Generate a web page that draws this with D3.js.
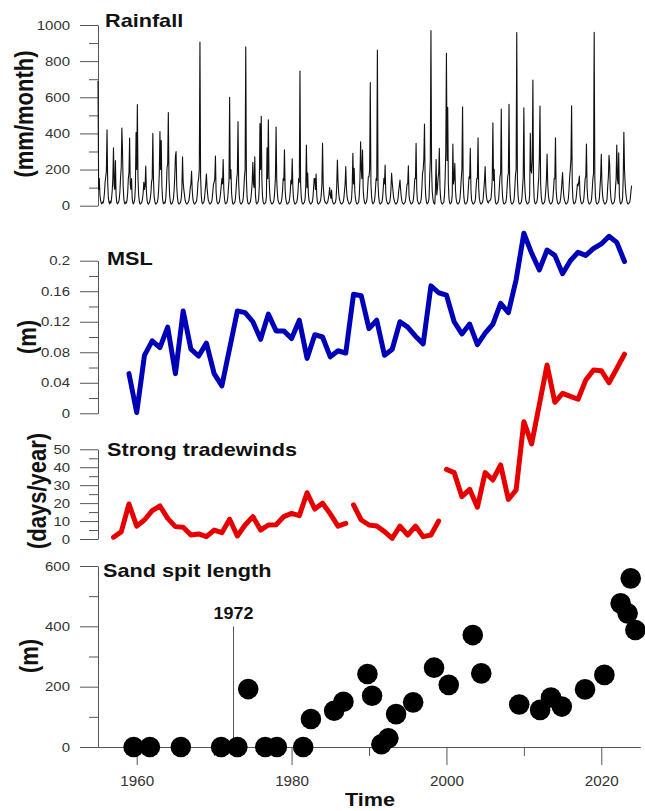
<!DOCTYPE html>
<html>
<head>
<meta charset="utf-8">
<script src="https://cdn.jsdelivr.net/npm/d3@7"></script>
<style>
body { margin: 0; background: #fff; }
svg { display: block; }
</style>
</head>
<body>
<svg width="645" height="811"></svg>
<script>
// ---- data ----
var rainStart = 1955; // monthly, Jan..Dec per row
var rainfall = [
	[690, 90, 150, 60, 30, 15, 10, 20, 15, 35, 70, 130],
	[160, 190, 420, 130, 45, 20, 10, 25, 15, 40, 80, 150],
	[320, 110, 90, 250, 60, 20, 10, 15, 20, 40, 80, 160],
	[210, 430, 300, 110, 40, 15, 10, 20, 15, 30, 70, 150],
	[180, 375, 120, 90, 150, 40, 15, 10, 20, 40, 110, 405],
	[200, 560, 150, 60, 25, 10, 10, 15, 20, 40, 70, 130],
	[90, 110, 220, 80, 30, 15, 8, 15, 20, 40, 70, 130],
	[150, 400, 140, 50, 25, 10, 10, 15, 20, 40, 90, 180],
	[410, 200, 360, 110, 40, 15, 10, 20, 15, 40, 100, 210],
	[230, 515, 150, 60, 25, 10, 10, 15, 25, 40, 90, 160],
	[275, 300, 110, 50, 20, 10, 10, 15, 20, 40, 90, 270],
	[130, 90, 60, 30, 20, 10, 10, 15, 20, 30, 60, 100],
	[120, 190, 90, 40, 20, 10, 10, 15, 20, 30, 70, 130],
	[150, 200, 905, 160, 60, 20, 10, 15, 20, 40, 80, 120],
	[175, 100, 60, 30, 20, 10, 10, 15, 20, 40, 80, 120],
	[130, 150, 275, 80, 30, 15, 10, 15, 20, 40, 70, 110],
	[150, 120, 255, 90, 40, 15, 10, 15, 20, 40, 90, 140],
	[600, 150, 200, 70, 30, 10, 10, 15, 20, 40, 90, 150],
	[180, 465, 130, 50, 20, 10, 10, 15, 20, 40, 90, 160],
	[200, 880, 150, 50, 20, 10, 10, 15, 20, 40, 80, 130],
	[240, 120, 100, 270, 60, 20, 10, 15, 20, 40, 110, 455],
	[200, 495, 140, 50, 20, 10, 10, 15, 20, 50, 320, 150],
	[475, 170, 80, 30, 20, 10, 10, 15, 20, 40, 90, 160],
	[435, 140, 70, 30, 20, 10, 10, 15, 20, 40, 80, 150],
	[140, 310, 90, 40, 20, 10, 10, 15, 20, 40, 80, 140],
	[120, 260, 100, 40, 20, 10, 10, 15, 20, 40, 80, 150],
	[130, 745, 120, 50, 20, 10, 10, 15, 20, 40, 110, 335],
	[100, 180, 70, 30, 20, 10, 10, 15, 20, 40, 90, 150],
	[150, 90, 175, 60, 20, 10, 10, 15, 20, 30, 60, 120],
	[345, 120, 60, 30, 20, 15, 10, 15, 20, 40, 60, 100],
	[60, 40, 87, 30, 20, 10, 10, 15, 20, 40, 110, 253],
	[140, 70, 40, 25, 15, 10, 10, 15, 20, 40, 80, 120],
	[216, 100, 50, 30, 20, 10, 10, 15, 20, 40, 110, 290],
	[120, 207, 80, 40, 20, 10, 10, 15, 20, 60, 150, 354],
	[200, 150, 308, 90, 40, 20, 10, 15, 20, 40, 100, 160],
	[160, 200, 681, 120, 50, 20, 10, 15, 20, 40, 90, 150],
	[140, 862, 120, 50, 20, 10, 10, 15, 20, 40, 90, 150],
	[120, 225, 70, 30, 20, 10, 10, 15, 20, 40, 90, 179],
	[130, 90, 50, 30, 20, 10, 10, 15, 20, 40, 80, 110],
	[142, 90, 50, 25, 15, 10, 10, 15, 20, 40, 80, 120],
	[120, 221, 60, 30, 20, 10, 10, 15, 20, 40, 90, 150],
	[150, 345, 90, 30, 20, 10, 10, 15, 20, 40, 100, 180],
	[200, 260, 452, 130, 50, 20, 10, 15, 20, 40, 150, 250],
	[969, 200, 80, 40, 20, 10, 10, 90, 256, 60, 90, 150],
	[180, 317, 100, 40, 20, 10, 10, 15, 20, 60, 150, 300],
	[843, 250, 544, 120, 40, 15, 10, 15, 20, 60, 341, 120],
	[150, 234, 90, 40, 20, 10, 10, 15, 20, 40, 90, 150],
	[200, 548, 130, 50, 20, 10, 10, 15, 20, 40, 100, 160],
	[150, 317, 90, 30, 20, 10, 10, 15, 20, 40, 100, 150],
	[150, 376, 100, 40, 20, 10, 10, 15, 20, 40, 90, 140],
	[216, 100, 50, 30, 20, 15, 25, 30, 30, 40, 80, 150],
	[459, 140, 201, 60, 20, 10, 10, 15, 20, 40, 100, 160],
	[180, 535, 120, 50, 20, 10, 10, 15, 20, 40, 100, 160],
	[180, 561, 130, 50, 20, 10, 10, 15, 20, 40, 100, 170],
	[200, 958, 150, 60, 20, 10, 10, 15, 20, 40, 100, 160],
	[542, 150, 70, 30, 20, 10, 10, 15, 20, 60, 400, 200],
	[180, 250, 696, 130, 40, 15, 10, 15, 20, 40, 100, 150],
	[262, 552, 120, 50, 20, 10, 10, 15, 20, 40, 90, 150],
	[286, 120, 60, 30, 20, 10, 10, 15, 20, 40, 90, 150],
	[150, 376, 90, 40, 20, 10, 10, 15, 20, 40, 80, 130],
	[183, 100, 50, 30, 20, 10, 10, 15, 20, 40, 90, 160],
	[200, 260, 553, 120, 40, 15, 10, 15, 20, 40, 80, 120],
	[110, 130, 164, 60, 30, 15, 10, 15, 20, 40, 90, 150],
	[160, 341, 100, 40, 20, 10, 10, 15, 20, 40, 90, 150],
	[180, 959, 150, 50, 20, 10, 10, 15, 20, 40, 100, 160],
	[284, 120, 60, 30, 20, 10, 10, 15, 20, 40, 110, 160],
	[279, 225, 90, 40, 20, 10, 10, 15, 20, 40, 100, 150],
	[336, 150, 120, 293, 60, 20, 10, 15, 20, 40, 150, 406],
	[200, 120, 70, 40, 20, 10, 10, 15, 20, 40, 80, 111]
];

var mslYears = [1959, 1960, 1961, 1962, 1963, 1964, 1965, 1966, 1967, 1968, 1969, 1970, 1971,
	1973, 1974, 1975, 1976, 1977, 1978, 1979, 1980, 1981, 1982, 1983, 1984, 1985, 1986, 1987,
	1988, 1989, 1990, 1991, 1992, 1993, 1994, 1995, 1996, 1997, 1998, 1999, 2000, 2001, 2002,
	2003, 2004, 2005, 2006, 2007, 2008, 2009, 2010, 2011, 2012, 2013, 2014, 2015, 2016, 2017,
	2018, 2019, 2020, 2021, 2022, 2023];
var mslValues = [0.052, 0.001, 0.076, 0.095, 0.086, 0.113, 0.052, 0.134, 0.084, 0.075, 0.092, 0.052, 0.036,
	0.134, 0.132, 0.120, 0.097, 0.130, 0.108, 0.108, 0.098, 0.122, 0.072, 0.103, 0.100, 0.074, 0.082, 0.079,
	0.156, 0.154, 0.111, 0.122, 0.076, 0.084, 0.120, 0.113, 0.101, 0.091, 0.167, 0.158, 0.155, 0.120, 0.104,
	0.117, 0.090, 0.105, 0.117, 0.144, 0.132, 0.175, 0.236, 0.210, 0.188, 0.214, 0.207, 0.183, 0.200, 0.211,
	0.207, 0.216, 0.222, 0.232, 0.224, 0.199];

// strong tradewind days, three separate records
var windStarts = [1957, 1988, 2000];
var windDays1 = [1, 4, 19.5, 7.2, 10.6, 15.8, 18.4, 11.5, 6.9, 6.5, 2.2, 2.8, 1.3, 5, 3.5, 11, 1.7, 7.8,
	12.5, 5, 7.8, 8, 12.5, 14.3, 13, 25.8, 16.7, 20, 14, 7.2, 8.7];
var windDays2 = [19, 10.6, 7.8, 7.2, 4.1, 0.4, 7.2, 2.2, 7.2, 1.3, 2.2, 10];
var windDays3 = [38.8, 37, 23.6, 27.7, 17.7, 37, 32.9, 41.3, 22.1, 27.3, 65.4, 53, 75, 97, 76.2, 81.2,
	79.5, 77.9, 88.6, 94.2, 93.8, 87.1, 95, 103];

var spitYears = [1959.6, 1961.7, 1965.7, 1970.9, 1973.0, 1974.4, 1976.6, 1978.1, 1981.5, 1982.5, 1985.5,
	1986.7, 1989.8, 1990.4, 1991.6, 1992.5, 1993.5, 1995.7, 1998.4, 2000.3, 2003.4, 2004.5, 2009.4,
	2012.1, 2013.5, 2014.9, 2017.9, 2020.4, 2022.5, 2023.4, 2023.8, 2024.4];
var spitLength = [0, 0, 0, 0, 0, 192, 0, 0, 0, 93, 120, 150, 242, 170, 9, 29, 109, 148, 263, 206, 371,
	244, 141, 123, 164, 134, 191, 239, 476, 443, 559, 388];

var eventYear = 1972.5, eventLabel = "1972", eventTop = 400;

var xMajor = [1960, 1980, 2000, 2020], xMinor = [1970, 1990, 2010];

// ---- layout ----
var font = "'Liberation Sans', Arial, sans-serif";
var axisX = 98;
var canvas = d3.select("svg");

var x = d3.scaleLinear().domain([1955, 2025]).range([98, 640]);
var rainY = d3.scaleLinear().domain([0, 1000]).range([205.7, 25]);
var mslY = d3.scaleLinear().domain([0, 0.2]).range([413.3, 260.7]);
var windY = d3.scaleLinear().domain([0, 50]).range([539, 449.3]);
var spitY = d3.scaleLinear().domain([0, 600]).range([747, 566]);

var stretch = function(sel, k) {
	sel.each(function() {
		var w = this.getComputedTextLength();
		d3.select(this).attr("textLength", w * k).attr("lengthAdjust", "spacingAndGlyphs");
	});
}

var styleAxis = function(g) {
	g.attr("font-family", font).attr("font-size", 13);
	g.selectAll("path, line").attr("stroke", "#555");
	g.selectAll("text").attr("fill", "#333");
}

var drawYAxis = function(scale, major, minor, fmt) {
	canvas.append("g")
		.attr("transform", "translate(" + axisX + ",0)")
		.call(d3.axisLeft(scale).tickValues(minor).tickSize(9).tickFormat(""))
		.call(styleAxis)
		.call(function(g) { g.select(".domain").remove(); });
	var g = canvas.append("g")
		.attr("transform", "translate(" + axisX + ",0)")
		.call(d3.axisLeft(scale).tickValues(major).tickSize(18).tickSizeOuter(0).tickPadding(10).tickFormat(fmt))
		.call(styleAxis);
	stretch(g.selectAll("text"), 1.15);
}

var title = function(txt, tx, ty, size) {
	var t = canvas.append("text")
		.attr("x", tx).attr("y", ty)
		.attr("font-family", font).attr("font-weight", "bold")
		.attr("font-size", size).attr("fill", "#111")
		.text(txt);
	stretch(t, 1.17);
	return t;
}

var yLabel = function(txt, cx, cy) {
	canvas.append("text")
		.attr("transform", "translate(" + cx + "," + cy + ") rotate(-90) scale(1,1.17)")
		.attr("text-anchor", "middle")
		.attr("dominant-baseline", "central")
		.attr("font-family", font).attr("font-weight", "bold")
		.attr("font-size", 22).attr("fill", "#111")
		.text(txt);
}

// ---- rainfall ----
var rainPts = [];
rainfall.forEach(function(row, i) {
	row.forEach(function(v, m) { rainPts.push([rainStart + i + m / 12, v]); });
});

drawYAxis(rainY, [0, 200, 400, 600, 800, 1000], [100, 300, 500, 700, 900], d3.format("d"));

canvas.append("path")
	.datum(rainPts)
	.attr("fill", "none")
	.attr("stroke", "#111")
	.attr("stroke-width", 1.1)
	.attr("stroke-linejoin", "round")
	.attr("d", d3.line().x(function(d) { return x(d[0]); }).y(function(d) { return rainY(d[1]); }));

title("Rainfall", 105, 26.7, 18.5);
yLabel("(mm/month)", 24, 114);

// ---- MSL ----
drawYAxis(mslY, [0, 0.04, 0.08, 0.12, 0.16, 0.2], [0.02, 0.06, 0.1, 0.14, 0.18],
	function(d) { return d === 0 ? "0" : String(+d.toFixed(2)); });

canvas.append("path")
	.datum(mslYears.map(function(yr, i) { return [yr, mslValues[i]]; }))
	.attr("fill", "none")
	.attr("stroke", "#0000b8")
	.attr("stroke-width", 5)
	.attr("stroke-linejoin", "round")
	.attr("stroke-linecap", "round")
	.attr("d", d3.line().x(function(d) { return x(d[0]); }).y(function(d) { return mslY(d[1]); }));

title("MSL", 107, 265, 18.5);
yLabel("(m)", 27, 337);

// ---- tradewinds ----
drawYAxis(windY, [0, 10, 20, 30, 40, 50], [5, 15, 25, 35, 45], d3.format("d"));

var windLine = d3.line().x(function(d) { return x(d[0]); }).y(function(d) { return windY(d[1]); });
[windDays1, windDays2, windDays3].forEach(function(vals, k) {
	canvas.append("path")
		.datum(vals.map(function(v, i) { return [windStarts[k] + i, v]; }))
		.attr("fill", "none")
		.attr("stroke", "#e60000")
		.attr("stroke-width", 5)
		.attr("stroke-linejoin", "round")
		.attr("stroke-linecap", "round")
		.attr("d", windLine);
});

title("Strong tradewinds", 107, 456, 18.5);
yLabel("(days/year)", 37, 491);

// ---- sand spit ----
drawYAxis(spitY, [0, 200, 400, 600], [100, 300, 500], d3.format("d"));

// x axis along bottom of spit panel
canvas.append("g")
	.attr("transform", "translate(0," + spitY(0) + ")")
	.call(d3.axisBottom(x).tickValues(xMinor).tickSize(9).tickSizeOuter(0).tickFormat(""))
	.call(styleAxis);
var xg = canvas.append("g")
	.attr("transform", "translate(0," + spitY(0) + ")")
	.call(d3.axisBottom(x).tickValues(xMajor).tickSize(18).tickSizeOuter(0).tickPadding(11).tickFormat(d3.format("d")))
	.call(styleAxis);
xg.selectAll("text").attr("font-size", 14.5);
stretch(xg.selectAll("text"), 1.05);

canvas.append("line")
	.attr("x1", x(eventYear)).attr("x2", x(eventYear))
	.attr("y1", spitY(0)).attr("y2", spitY(eventTop))
	.attr("stroke", "#555").attr("stroke-width", 1);

canvas.append("text")
	.attr("x", x(eventYear)).attr("y", 619)
	.attr("text-anchor", "middle")
	.attr("font-family", font).attr("font-weight", "bold")
	.attr("font-size", 16).attr("fill", "#111")
	.text(eventLabel)
	.call(function(t) { stretch(t, 1.12); });

canvas.append("g").selectAll("circle")
	.data(spitYears.map(function(yr, i) { return [yr, spitLength[i]]; }))
	.enter()
	.append("circle")
	.attr("cx", function(d) { return x(d[0]); })
	.attr("cy", function(d) { return spitY(d[1]); })
	.attr("r", 10.3)
	.attr("fill", "#000");

title("Sand spit length", 103, 577, 18.5);
yLabel("(m)", 29, 656);

title("Time", 345, 806, 18.5);
</script>
</body>
</html>
